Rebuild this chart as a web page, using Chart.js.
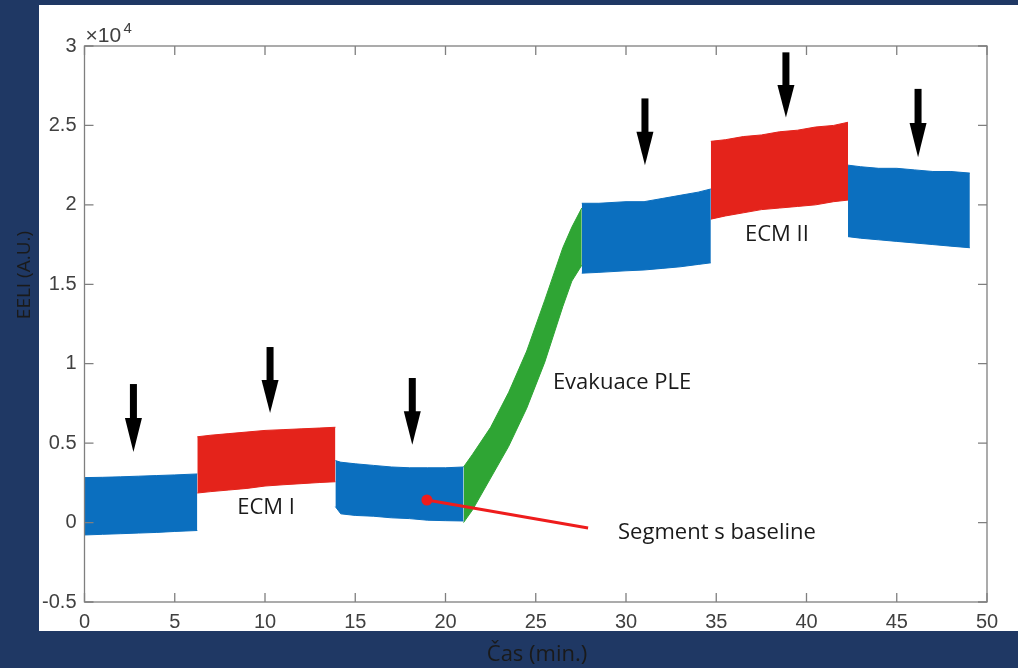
<!DOCTYPE html>
<html>
<head>
<meta charset="utf-8">
<script src="https://cdn.jsdelivr.net/npm/chart.js@4/dist/chart.umd.min.js"></script>
<style>
html,body{margin:0;padding:0;background:#1f3864;overflow:hidden;}
#c{display:block;}
</style>
</head>
<body>
<canvas id="c" width="1018" height="668"></canvas>
<script>
// ---- Data (EELI, arbitrary units; time in minutes) ----
// Segment 1: baseline (blue)
const seg1Time  = [0, 1, 2, 3, 4, 5, 6.25];
const seg1Upper = [2830, 2850, 2880, 2920, 2960, 3000, 3060];
const seg1Lower = [-780, -740, -700, -660, -620, -560, -500];
// Segment 2: ECM I (red)
const seg2Time  = [6.25, 7, 8, 9, 10, 11, 12, 13, 13.9];
const seg2Upper = [5400, 5500, 5600, 5700, 5800, 5850, 5900, 5950, 6000];
const seg2Lower = [1860, 1950, 2050, 2150, 2300, 2380, 2450, 2520, 2570];
// Segment 3: segment s baseline (blue)
const seg3Time  = [13.9, 14.2, 15, 16, 17, 18, 19, 20, 21.0];
const seg3Upper = [3900, 3800, 3700, 3600, 3500, 3450, 3450, 3450, 3500];
const seg3Lower = [1000, 550, 450, 400, 300, 250, 150, 120, 100];
// Segment 4: Evakuace PLE (green)
const seg4Time  = [21.0, 21.5, 22.5, 23.5, 24.5, 25.5, 26.5, 27.0, 27.55];
const seg4Upper = [3500, 4300, 6000, 8200, 10800, 14000, 17300, 18600, 19800];
const seg4Lower = [0, 800, 2800, 4800, 7200, 10100, 13600, 15200, 16200];
// Segment 5: after evacuation (blue)
const seg5Time  = [27.55, 28.5, 30, 31, 32, 33, 34, 34.7];
const seg5Upper = [20100, 20100, 20200, 20200, 20400, 20600, 20800, 21000];
const seg5Lower = [15700, 15750, 15850, 15900, 16000, 16100, 16250, 16350];
// Segment 6: ECM II (red)
const seg6Time  = [34.7, 35.5, 36.5, 37.5, 38.5, 39.5, 40.5, 41.5, 42.3];
const seg6Upper = [24000, 24100, 24300, 24400, 24600, 24700, 24900, 25000, 25200];
const seg6Lower = [19100, 19300, 19500, 19700, 19800, 19900, 20000, 20200, 20300];
// Segment 7: final (blue)
const seg7Time  = [42.3, 43, 44, 45, 46, 47, 48, 49.05];
const seg7Upper = [22500, 22400, 22300, 22300, 22200, 22100, 22100, 22000];
const seg7Lower = [18000, 17900, 17800, 17700, 17600, 17500, 17400, 17300];

// Axis ticks
const xTicks = [0, 5, 10, 15, 20, 25, 30, 35, 40, 45, 50];
const yTicks = [-5000, 0, 5000, 10000, 15000, 20000, 25000, 30000];

// Arrow markers (time, top value, tip value)
const arrowTime = [2.71, 10.28, 18.16, 31.05, 38.86, 46.18];
const arrowTop  = [8720, 11050, 9100, 26700, 29600, 27300];
const arrowTip  = [4440, 6900, 4900, 22500, 25500, 23000];

// Text labels
const labelText = ['ECM I', 'ECM II', 'Evakuace PLE'];
const labelTime = [10.06, 38.36, 25.95];
const labelVal  = [920, 18100, 8790];

const BLUE = '#0b6fbf', RED = '#e4231b', GREEN = '#2fa534';
const segments = [
  [seg1Time, seg1Upper, seg1Lower, BLUE],
  [seg2Time, seg2Upper, seg2Lower, RED],
  [seg3Time, seg3Upper, seg3Lower, BLUE],
  [seg4Time, seg4Upper, seg4Lower, GREEN],
  [seg5Time, seg5Upper, seg5Lower, BLUE],
  [seg6Time, seg6Upper, seg6Lower, RED],
  [seg7Time, seg7Upper, seg7Lower, BLUE]
];
const datasets = [];
segments.forEach(([t, up, lo, col]) => {
  datasets.push({data: t.map((x, i) => ({x, y: lo[i]})), borderColor: col, backgroundColor: col,
    borderWidth: 1, pointRadius: 0, fill: false, tension: 0});
  datasets.push({data: t.map((x, i) => ({x, y: up[i]})), borderColor: col, backgroundColor: col,
    borderWidth: 1, pointRadius: 0, fill: '-1', tension: 0});
});

const TXT = "'Open Sans', 'Noto Sans', sans-serif";
const NUM = "'Liberation Sans', Arial, sans-serif";

const decor = {
  id: 'decor',
  beforeDraw(chart) {
    const c = chart.ctx;
    c.save();
    c.fillStyle = '#1f3864';
    c.fillRect(0, 0, chart.width, chart.height);
    c.fillStyle = '#ffffff';
    c.fillRect(39, 5, 979, 626);
    c.restore();
  },
  afterDraw(chart) {
    const c = chart.ctx, a = chart.chartArea, xs = chart.scales.x, ys = chart.scales.y;
    c.save();
    // axes box
    c.strokeStyle = '#7f7f7f';
    c.lineWidth = 1.3;
    c.strokeRect(a.left, a.top, a.right - a.left, a.bottom - a.top);
    // inward ticks
    c.beginPath();
    xTicks.forEach(v => {
      const px = xs.getPixelForValue(v);
      c.moveTo(px, a.bottom); c.lineTo(px, a.bottom - 9);
      c.moveTo(px, a.top); c.lineTo(px, a.top + 9);
    });
    yTicks.forEach(v => {
      const py = ys.getPixelForValue(v);
      c.moveTo(a.left, py); c.lineTo(a.left + 9, py);
      c.moveTo(a.right, py); c.lineTo(a.right - 9, py);
    });
    c.stroke();
    // x10^4 exponent
    c.fillStyle = '#404040';
    c.font = '21px ' + NUM;
    c.textAlign = 'left'; c.textBaseline = 'alphabetic';
    c.fillText('\u00d710', a.left + 1, 42);
    c.font = '15px ' + NUM;
    c.fillText('4', a.left + 39, 33);
    // arrows
    c.fillStyle = '#000000';
    arrowTime.forEach((t, i) => {
      const px = xs.getPixelForValue(t);
      const pTop = ys.getPixelForValue(arrowTop[i]);
      const pTip = ys.getPixelForValue(arrowTip[i]);
      const headStart = pTop + (pTip - pTop) * 0.5;
      c.fillRect(px - 3.5, pTop, 7, headStart - pTop + 1);
      c.beginPath();
      c.moveTo(px - 8.5, headStart);
      c.lineTo(px + 8.5, headStart);
      c.lineTo(px, pTip);
      c.closePath();
      c.fill();
    });
    // text labels
    c.fillStyle = '#1a1a1a';
    c.font = '22px ' + TXT;
    c.textBaseline = 'middle';
    labelText.forEach((s, i) => {
      c.textAlign = i === 2 ? 'left' : 'center';
      c.fillText(s, xs.getPixelForValue(labelTime[i]), ys.getPixelForValue(labelVal[i]));
    });
    // Segment s baseline pointer
    const dx = xs.getPixelForValue(18.97), dy = ys.getPixelForValue(1420);
    const ex = xs.getPixelForValue(27.9), ey = ys.getPixelForValue(-340);
    c.strokeStyle = '#ee1c1c'; c.lineWidth = 3;
    c.beginPath(); c.moveTo(dx, dy); c.lineTo(ex, ey); c.stroke();
    c.fillStyle = '#ee1c1c';
    c.beginPath(); c.arc(dx, dy, 5.5, 0, Math.PI * 2); c.fill();
    c.fillStyle = '#1a1a1a';
    c.textAlign = 'left';
    c.fillText('Segment s baseline', xs.getPixelForValue(29.56), ys.getPixelForValue(-620));
    // axis titles
    c.fillStyle = '#1a1a1a';
    c.font = '22px ' + TXT;
    c.textAlign = 'center';
    c.fillText('\u010cas (min.)', 537, 655);
    c.translate(25, 275);
    c.rotate(-Math.PI / 2);
    c.font = '19px ' + TXT;
    c.fillText('EELI (A.U.)', 0, 0);
    c.restore();
  }
};

new Chart(document.getElementById('c'), {
  type: 'line',
  data: {datasets},
  options: {
    responsive: false,
    devicePixelRatio: 1,
    animation: false,
    layout: {padding: {top: 46, right: 31, bottom: 0, left: 0}},
    plugins: {legend: {display: false}, tooltip: {enabled: false}},
    scales: {
      x: {
        type: 'linear', min: 0, max: 50,
        afterBuildTicks: s => { s.ticks = xTicks.map(v => ({value: v})); },
        ticks: {color: '#404040', font: {family: NUM, size: 20}, padding: 8, maxRotation: 0, autoSkip: false},
        grid: {display: false, drawTicks: false},
        border: {display: false},
        afterFit: s => { s.height = 66; }
      },
      y: {
        type: 'linear', min: -5000, max: 30000,
        afterBuildTicks: s => { s.ticks = yTicks.map(v => ({value: v})); },
        ticks: {color: '#404040', font: {family: NUM, size: 20}, padding: 8, callback: v => String(v / 10000)},
        grid: {display: false, drawTicks: false},
        border: {display: false},
        afterFit: s => { s.width = 84.5; }
      }
    }
  },
  plugins: [decor]
});
</script>
</body>
</html>
